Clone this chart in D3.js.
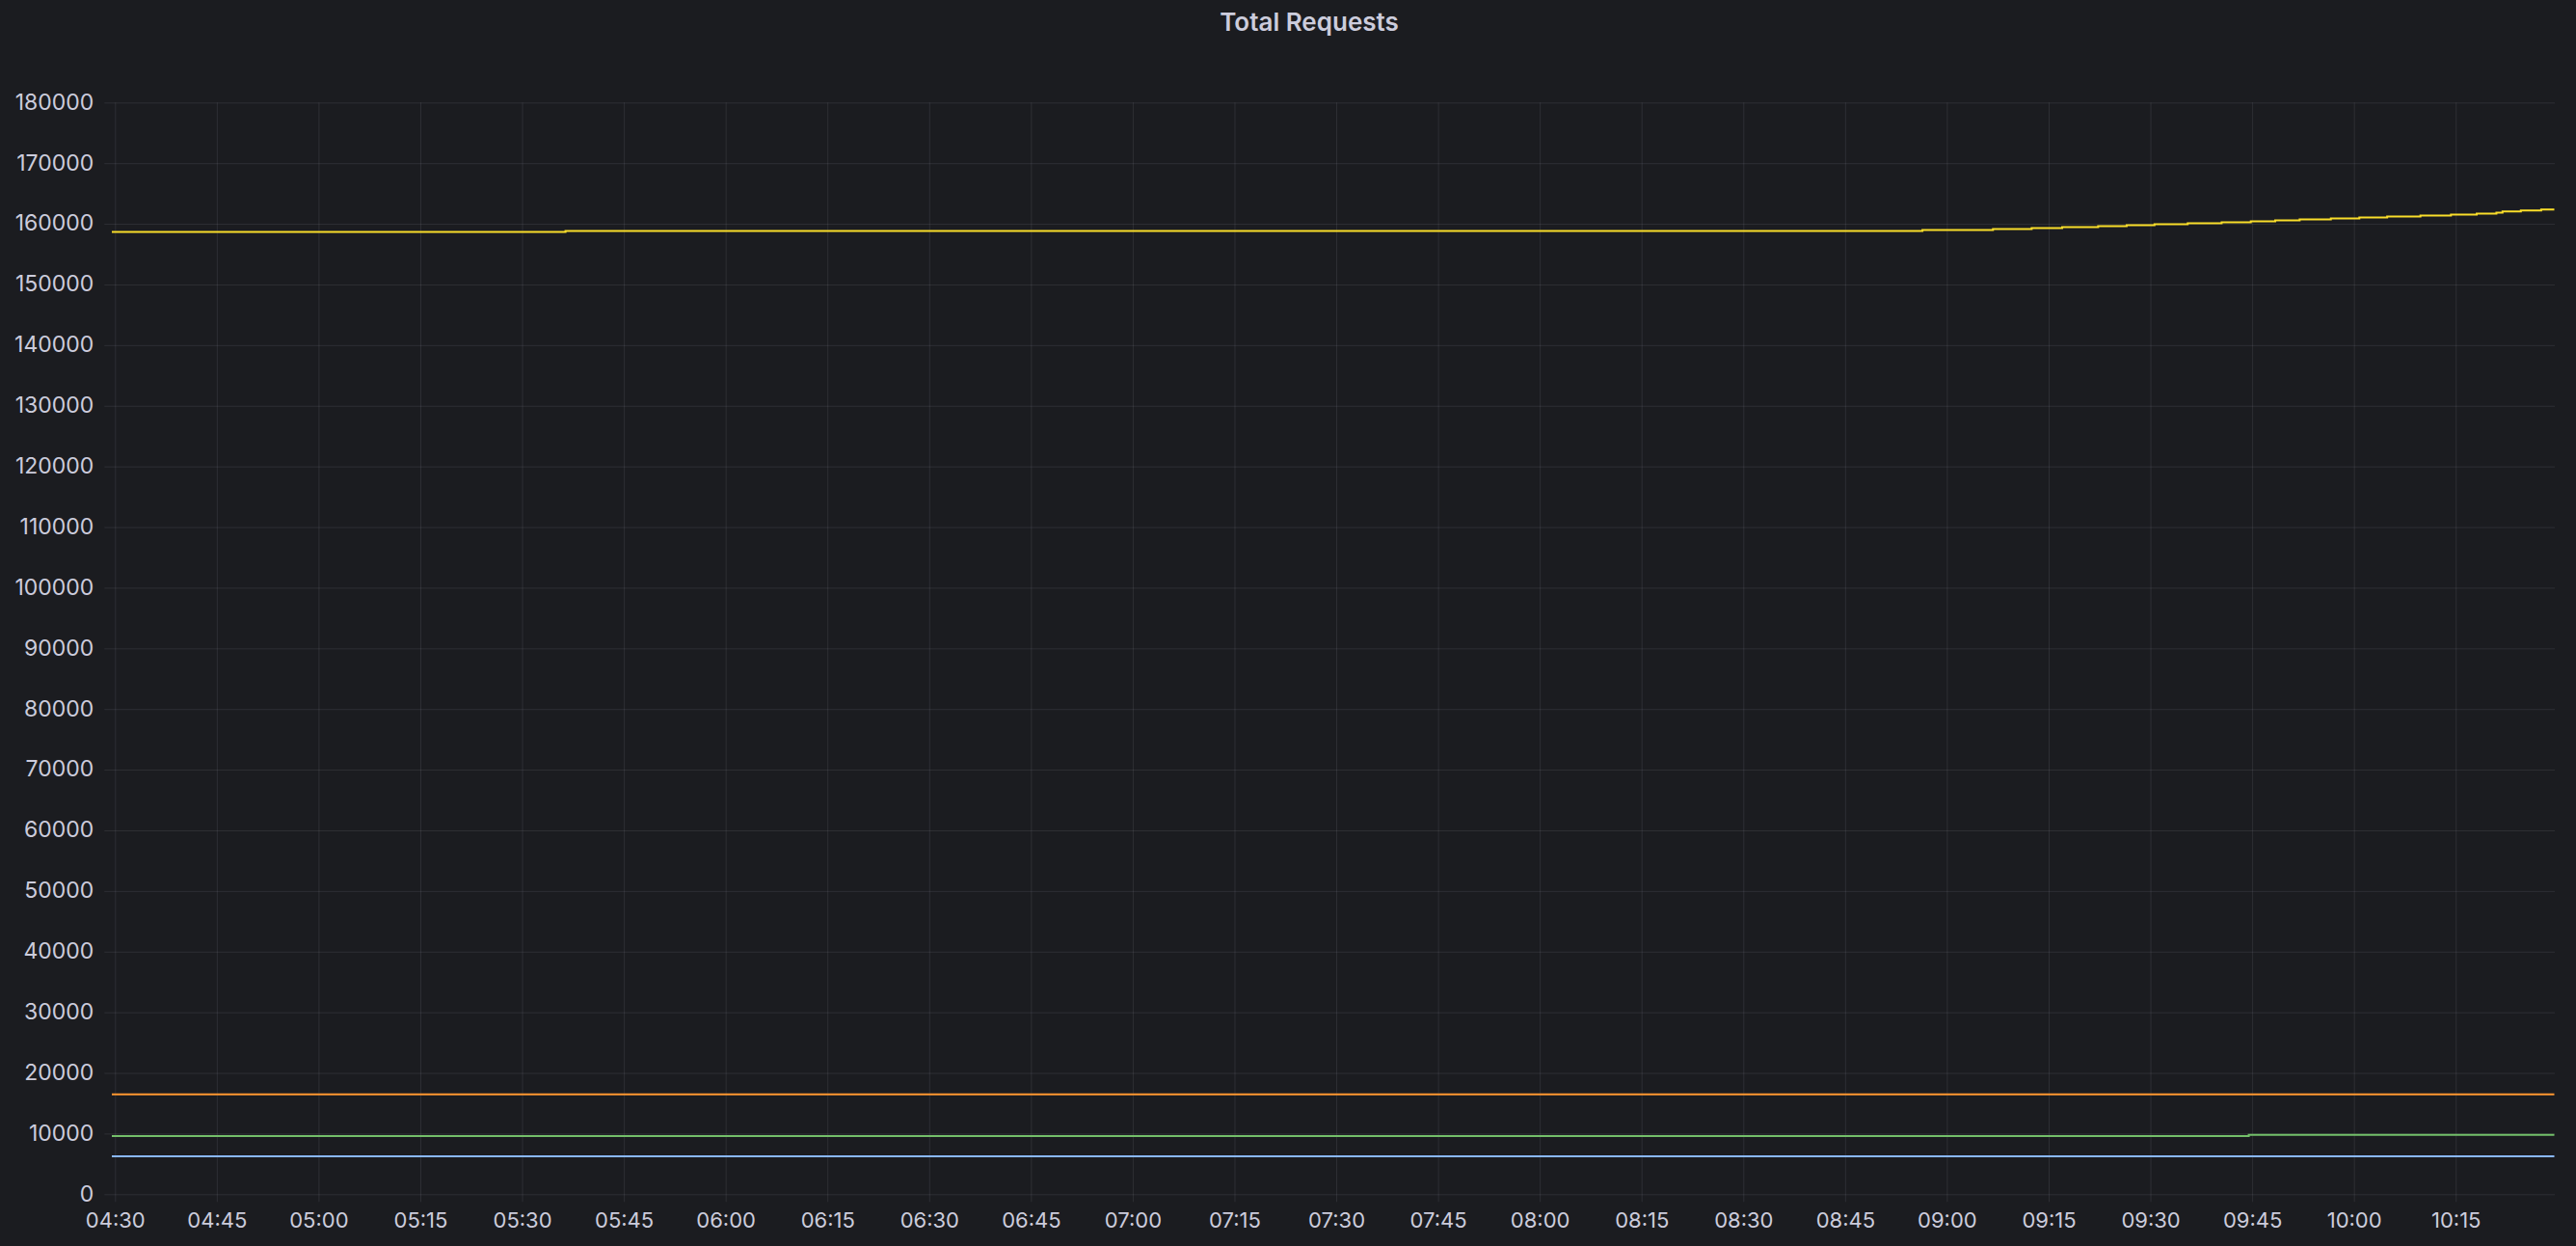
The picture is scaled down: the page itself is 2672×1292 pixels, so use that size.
<!DOCTYPE html>
<html>
<head>
<meta charset="utf-8">
<script src="https://cdn.jsdelivr.net/npm/d3@7"></script>
<style>
  html, body { margin: 0; padding: 0; background: #1b1c20; }
  svg { display: block; }
</style>
</head>
<body>
<svg width="2672" height="1292"></svg>
<script>
let width = 2672, height = 1292;

// time range shown
let timeStart = "04:29:32", timeEnd = "10:29:32";

let xTickLabels = ["04:30", "04:45", "05:00", "05:15", "05:30", "05:45", "06:00", "06:15",
  "06:30", "06:45", "07:00", "07:15", "07:30", "07:45", "08:00", "08:15", "08:30", "08:45",
  "09:00", "09:15", "09:30", "09:45", "10:00", "10:15"];
let yTickValues = [0, 10000, 20000, 30000, 40000, 50000, 60000, 70000, 80000, 90000,
  100000, 110000, 120000, 130000, 140000, 150000, 160000, 170000, 180000];

// series: times where the counter changes, and the value from then on
let yellowTimes = ["04:29:32", "05:36:24", "08:56:24", "09:06:48", "09:12:30", "09:17:00",
  "09:22:18", "09:26:30", "09:30:36", "09:35:30", "09:40:30", "09:44:48", "09:48:24",
  "09:52:00", "09:56:36", "10:00:48", "10:04:54", "10:09:48", "10:14:18", "10:18:06",
  "10:21:00", "10:21:54", "10:24:36", "10:27:36"];
let yellowValues = [158660, 158820, 158980, 159140, 159300, 159460, 159620, 159780,
  159940, 160100, 160260, 160420, 160580, 160740, 160900, 161060, 161220, 161380,
  161540, 161700, 161860, 162020, 162180, 162340];

let orangeTimes = ["04:29:32"];
let orangeValues = [16450];

let greenTimes = ["04:29:32", "09:44:30"];
let greenValues = [9580, 9790];

let blueTimes = ["04:29:32"];
let blueValues = [6260];

let series = [
  { name: "yellow", color: "#fade2a", times: yellowTimes, values: yellowValues },
  { name: "orange", color: "#ff9830", times: orangeTimes, values: orangeValues },
  { name: "green", color: "#73bf69", times: greenTimes, values: greenValues },
  { name: "blue", color: "#8ab8ff", times: blueTimes, values: blueValues },
];

let parse = d3.timeParse("%H:%M:%S");
let parseTick = d3.timeParse("%H:%M");

let plot = { left: 116, right: 2649.5, top: 106.3, bottom: 1238.3 };

let x = d3.scaleTime()
  .domain([parse(timeStart), parse(timeEnd)])
  .range([plot.left, plot.right]);
let y = d3.scaleLinear()
  .domain([0, 180000])
  .range([plot.bottom, plot.top]);

let svg = d3.select("svg");
let font = "Inter, 'Noto Sans', sans-serif";
let gridColor = "rgba(204,204,220,0.11)";
let textColor = "#ccccdc";

// title
svg.append("text")
  .attr("x", 1358)
  .attr("y", 23)
  .attr("dy", "0.36em")
  .attr("text-anchor", "middle")
  .attr("fill", textColor)
  .attr("font-family", font)
  .attr("font-weight", 600)
  .attr("font-size", 26)
  .text("Total Requests");

// y axis + horizontal grid
let yAxis = svg.append("g")
  .attr("transform", `translate(108.3,0)`)
  .call(d3.axisLeft(y)
    .tickValues(yTickValues)
    .tickFormat(d3.format("d"))
    .tickSize(-(plot.right + 0.5 - 108.3))
    .tickPadding(11));
yAxis.select(".domain").remove();
yAxis.selectAll(".tick line").attr("stroke", gridColor).attr("stroke-width", 1);
yAxis.selectAll(".tick text")
  .attr("fill", textColor)
  .attr("font-family", font)
  .attr("font-size", 23)
  .attr("dy", "0.3em");

// x axis + vertical grid
let xAxis = svg.append("g")
  .attr("transform", `translate(0,1246.3)`)
  .call(d3.axisBottom(x)
    .tickValues(xTickLabels.map(parseTick))
    .tickFormat(d3.timeFormat("%H:%M"))
    .tickSize(-(1246.3 - plot.top))
    .tickPadding(11));
xAxis.select(".domain").remove();
xAxis.selectAll(".tick line").attr("stroke", gridColor).attr("stroke-width", 1);
xAxis.selectAll(".tick text")
  .attr("fill", textColor)
  .attr("font-family", font)
  .attr("font-size", 22);

// lines
let line = d3.line()
  .x(d => x(d.t))
  .y(d => y(d.v))
  .curve(d3.curveStepAfter);

svg.append("g")
  .selectAll("path")
  .data(series)
  .join("path")
  .attr("fill", "none")
  .attr("stroke", d => d.color)
  .attr("stroke-width", 2)
  .attr("d", d => {
    let pts = d.times.map((t, i) => ({ t: parse(t), v: d.values[i] }));
    pts.push({ t: parse(timeEnd), v: d.values[d.values.length - 1] });
    return line(pts);
  });
</script>
</body>
</html>
